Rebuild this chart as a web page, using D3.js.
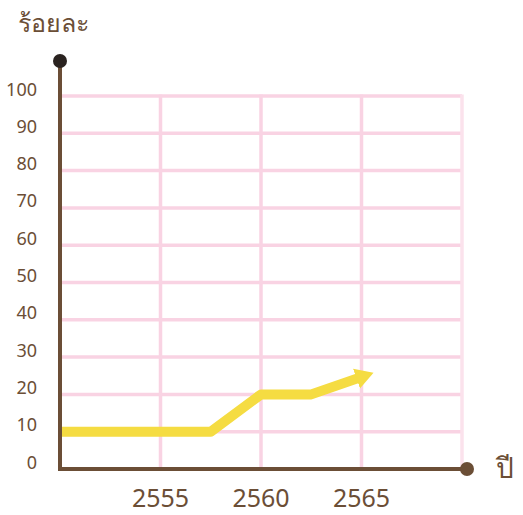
<!DOCTYPE html>
<html>
<head>
<meta charset="utf-8">
<script src="https://cdn.jsdelivr.net/npm/d3@7"></script>
<style>
  body { margin: 0; background: #fff; }
  text { font-family: "Noto Sans", "DejaVu Sans", sans-serif; fill: #6b4e36; }
</style>
</head>
<body>
<div id="chart"></div>
<script>
const years = [2550, 2557.5, 2560, 2562.5, 2564.8];
const values = [10, 10, 20, 20, 24.3];
const xTicks = [2555, 2560, 2565];
const yTicks = [0, 10, 20, 30, 40, 50, 60, 70, 80, 90, 100];

const width = 523,
  height = 515;
const brown = "#6b4e36";

const x = d3.scaleLinear().domain([2550, 2570]).range([60, 462]);
const y = d3.scaleLinear().domain([0, 100]).range([469, 96]);

const svg = d3
  .select("#chart")
  .append("svg")
  .attr("width", width)
  .attr("height", height);

// pink grid
svg
  .selectAll(".hgrid")
  .data(yTicks.filter((d) => d > 0))
  .enter()
  .append("line")
  .attr("x1", x(2550))
  .attr("x2", x(2570))
  .attr("y1", (d) => y(d))
  .attr("y2", (d) => y(d))
  .attr("stroke", "#f9d3e3")
  .attr("stroke-width", 3.5);

svg
  .selectAll(".vgrid")
  .data(xTicks.concat([2570]))
  .enter()
  .append("line")
  .attr("x1", (d) => x(d))
  .attr("x2", (d) => x(d))
  .attr("y1", y(100) - 1.5)
  .attr("y2", y(0))
  .attr("stroke", (d) => (d === 2570 ? "#fbe2ec" : "#f9d3e3"))
  .attr("stroke-width", 3.5);

// y labels
svg
  .selectAll(".ylab")
  .data(yTicks)
  .enter()
  .append("text")
  .attr("x", 37)
  .attr("y", (d) => y(d) - 0.5)
  .attr("text-anchor", "end")
  .attr("font-size", 18)
  .text((d) => d);

// x labels
svg
  .selectAll(".xlab")
  .data(xTicks)
  .enter()
  .append("text")
  .attr("x", (d) => x(d))
  .attr("y", 507)
  .attr("text-anchor", "middle")
  .attr("font-size", 25)
  .text((d) => d);

// arrow marker
const defs = svg.append("defs");
defs
  .append("marker")
  .attr("id", "arrow")
  .attr("markerUnits", "userSpaceOnUse")
  .attr("markerWidth", 24)
  .attr("markerHeight", 24)
  .attr("viewBox", "0 -12 24 24")
  .attr("refX", 1)
  .attr("refY", 0)
  .attr("orient", "auto")
  .append("path")
  .attr("d", "M0,-10.5L18,0L0,10.5Z")
  .attr("fill", "#f5dc42");

const line = d3
  .line()
  .x((d) => x(d[0]))
  .y((d) => y(d[1]));

svg
  .append("path")
  .datum(d3.zip(years, values))
  .attr("d", line)
  .attr("fill", "none")
  .attr("stroke", "#f5dc42")
  .attr("stroke-width", 10)
  .attr("stroke-linejoin", "round")
  .attr("marker-end", "url(#arrow)");

// axes
svg
  .append("line")
  .attr("x1", x(2550))
  .attr("x2", x(2550))
  .attr("y1", 61)
  .attr("y2", y(0) + 2)
  .attr("stroke", brown)
  .attr("stroke-width", 4);
svg
  .append("line")
  .attr("x1", x(2550) - 2)
  .attr("x2", 467)
  .attr("y1", y(0))
  .attr("y2", y(0))
  .attr("stroke", brown)
  .attr("stroke-width", 4);
svg.append("circle").attr("cx", x(2550)).attr("cy", 61).attr("r", 7).attr("fill", "#2a2320");
svg.append("circle").attr("cx", 467).attr("cy", y(0)).attr("r", 7).attr("fill", brown);

// axis titles
svg
  .append("text")
  .attr("x", 18)
  .attr("y", 32)
  .attr("font-size", 25)
  .text("ร้อยละ");
svg
  .append("text")
  .attr("x", 496)
  .attr("y", 478)
  .attr("font-size", 28)
  .text("ปี");
</script>
</body>
</html>
